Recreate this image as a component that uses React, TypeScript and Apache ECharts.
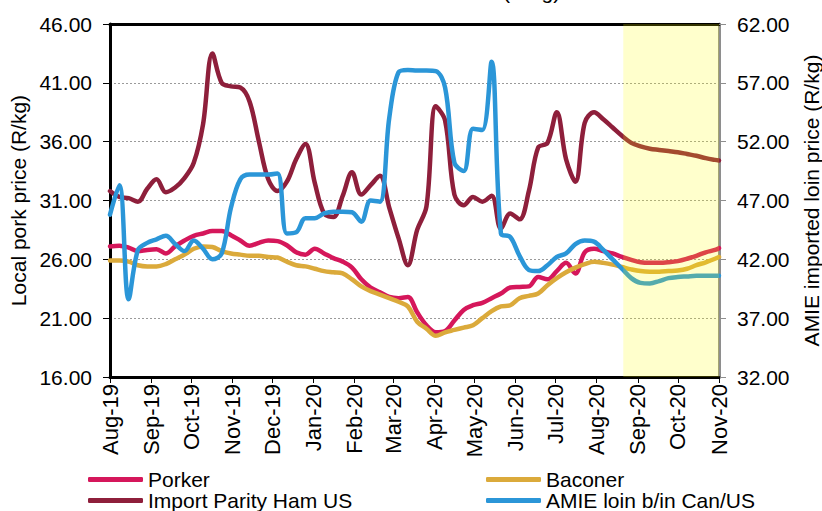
import React, { useEffect, useRef } from "react";
import * as echarts from "echarts";

const FONT = "'Liberation Sans', Arial, sans-serif";
const DAY = 86400000;
const START = Date.UTC(2019, 7, 1);
const END = Date.UTC(2020, 10, 1);
const fmt = (t: number) => new Date(t).toISOString().slice(0, 10);

// daily category axis (Aug-19 .. Nov-20)
const dayCategories: string[] = [];
for (let t = START; t <= END; t += DAY) dayCategories.push(fmt(t));

// weekly observation dates
const weekDates: string[] = [];
for (let k = 0; k <= 65; k++) weekDates.push(fmt(START + k * 7 * DAY));
weekDates.push("2020-11-01");

const MONTHS = ["Jan", "Feb", "Mar", "Apr", "May", "Jun", "Jul", "Aug", "Sep", "Oct", "Nov", "Dec"];

const porker = [
  27.1, 27.15, 27.0, 26.7, 26.8, 26.85, 26.5, 27.1, 27.6, 28.0,
  28.2, 28.4, 28.4, 28.05, 27.6, 27.15, 27.4, 27.6, 27.55, 27.2,
  26.6, 26.4, 26.9, 26.5, 26.1, 25.8, 25.3, 24.3, 23.6, 23.2,
  22.8, 22.7, 22.8, 21.5, 20.4, 19.8, 19.9, 20.8, 21.7, 22.1,
  22.3, 22.7, 23.1, 23.6, 23.65, 23.7, 24.5, 24.3, 25.0, 25.7,
  24.8, 26.6, 26.9, 26.7, 26.5, 26.2, 25.95, 25.75, 25.7, 25.7,
  25.75, 25.85, 26.05, 26.3, 26.6, 26.8, 26.95,
];

const baconer = [
  25.9, 25.9, 25.8, 25.5, 25.4, 25.4, 25.6, 26.0, 26.4, 26.9,
  27.1, 27.05, 26.7, 26.5, 26.4, 26.3, 26.3, 26.2, 26.15, 25.8,
  25.5, 25.4, 25.2, 25.0, 24.9, 24.8, 24.3, 23.7, 23.3, 23.0,
  22.7, 22.4, 22.0, 20.7, 20.1, 19.5, 19.8, 20.0, 20.2, 20.4,
  21.0, 21.6, 22.0, 22.1, 22.7, 22.9, 23.1, 23.8, 24.4, 24.9,
  25.3, 25.6, 25.8, 25.7, 25.55, 25.35, 25.15, 25.0, 24.95, 24.95,
  25.0, 25.05, 25.2, 25.5, 25.75, 26.05, 26.2,
];

const hamUS = [
  31.8, 31.3, 31.2, 30.9, 32.0, 32.8, 31.7, 32.1, 32.9, 34.2,
  37.5, 43.5, 41.0, 40.7, 40.6, 39.4, 36.0, 32.8, 31.8, 32.6,
  34.5, 35.8, 32.5, 29.9, 29.6, 31.4, 33.4, 31.5, 32.3, 33.1,
  30.4, 27.8, 25.5, 28.5, 30.5, 39.0, 37.8, 31.5, 30.6, 31.3,
  30.9, 31.4, 28.6, 29.9, 29.4, 31.8, 35.5, 35.9, 38.5, 34.5,
  32.6, 37.6, 38.5, 37.9, 37.2, 36.5, 35.9, 35.6, 35.4, 35.3,
  35.2, 35.1, 34.95, 34.8, 34.6, 34.45, 34.4,
];

const amieLoin = [
  45.8, 48.3, 38.6, 42.8, 43.4, 43.7, 44.0, 43.3, 42.7, 43.6,
  42.9, 42.0, 42.5, 46.4, 48.8, 49.2, 49.2, 49.2, 49.3, 44.2,
  44.3, 45.5, 45.5, 45.9, 46.05, 46.05, 46.0, 45.2, 47.0, 46.9,
  54.0, 57.9, 58.1, 58.05, 58.05, 58.0, 56.6, 50.2, 49.5, 53.1,
  53.0, 58.8, 44.2, 43.9, 42.3, 41.1, 41.0, 41.5, 42.2, 42.5,
  43.3, 43.6, 43.5, 42.8, 42.0, 41.2, 40.4, 40.0, 39.95, 40.15,
  40.4, 40.5, 40.55, 40.6, 40.6, 40.6, 40.6,
];

const forecastStart = "2020-08-21";
const forecastEnd = "2020-11-01";

const COLORS = {
  porker: "#D5175B",
  baconer: "#DBAA3B",
  ham: "#8E1F3B",
  amie: "#2B96D8",
};

const isMonthStart = (_i: number, v: string) => v.slice(8) === "01";
const monthLabel = (v: string) => MONTHS[parseInt(v.slice(5, 7), 10) - 1] + "-" + v.slice(2, 4);

const pair = (vals: number[]) => vals.map((v, i) => [weekDates[i], v]);

const lineSeries = (name: string, vals: number[], color: string, yAxisIndex: number) => ({
  name,
  type: "line",
  yAxisIndex,
  data: pair(vals),
  smooth: 0.35,
  showSymbol: false,
  symbol: "none",
  lineStyle: { color, width: 4.5, cap: "round", join: "round" },
  itemStyle: { color },
});

export default function App() {
  const ref = useRef<HTMLDivElement>(null);
  useEffect(() => {
    if (!ref.current) return;
    const chart = echarts.init(ref.current, undefined, { renderer: "svg" });
    const axisText = { fontSize: 21, color: "#000", fontFamily: FONT };
    const legendBase = {
      top: 469,
      height: 80,
      padding: 0,
      orient: "vertical",
      itemGap: 0,
      itemWidth: 55,
      itemHeight: 5,
      icon: "roundRect",
      textStyle: { fontSize: 21, color: "#000", fontFamily: FONT, lineHeight: 19 },
    };
    chart.setOption({
      animation: false,
      textStyle: { fontFamily: FONT },
      grid: { left: 110, right: 103, top: 24, bottom: 134, outerBoundsMode: "none", containLabel: false },
      graphic: [
        {
          type: "text",
          left: 503,
          top: -19,
          style: { text: "(R/kg)", fontSize: 21, fill: "#000", fontFamily: FONT },
        },
      ],
      xAxis: [
        {
          type: "category",
          data: dayCategories,
          boundaryGap: false,
          axisLine: { lineStyle: { color: "#000", width: 3 } },
          axisTick: { interval: isMonthStart, length: 6, lineStyle: { color: "#000", width: 1 } },
          axisLabel: {
            interval: isMonthStart,
            rotate: 90,
            formatter: monthLabel,
            margin: 7,
            ...axisText,
            fontSize: 22,
          },
          splitLine: { show: false },
        },
        {
          type: "category",
          data: dayCategories,
          boundaryGap: false,
          position: "top",
          axisLine: { lineStyle: { color: "#000", width: 3 } },
          axisTick: { show: false },
          axisLabel: { show: false },
          splitLine: { show: false },
        },
      ],
      yAxis: [
        {
          type: "value",
          min: 16,
          max: 46,
          interval: 5,
          position: "left",
          name: "Local pork price (R/kg)",
          nameLocation: "middle",
          nameRotate: 90,
          nameGap: 78,
          nameTextStyle: { ...axisText },
          axisLine: { show: true, lineStyle: { color: "#000", width: 3 } },
          axisTick: { show: true, length: 7, lineStyle: { color: "#000", width: 1 } },
          axisLabel: { formatter: (v: number) => v.toFixed(2), margin: 18, ...axisText },
          splitLine: { show: true, lineStyle: { color: "#9a9a9a", width: 1, type: [2, 2] } },
        },
        {
          type: "value",
          min: 32,
          max: 62,
          interval: 5,
          position: "right",
          name: "AMIE imported loin price (R/kg)",
          nameLocation: "middle",
          nameRotate: 90,
          nameGap: 82,
          nameTextStyle: { ...axisText },
          axisLine: { show: true, lineStyle: { color: "#8e8e8e", width: 3 } },
          axisTick: { show: true, length: 7, lineStyle: { color: "#8e8e8e", width: 1 } },
          axisLabel: { formatter: (v: number) => v.toFixed(2), margin: 18, ...axisText },
          splitLine: { show: false },
        },
      ],
      legend: [
        { ...legendBase, left: 88, data: ["Porker", "Import Parity Ham US"] },
        { ...legendBase, left: 486, data: ["Baconer", "AMIE loin b/in Can/US"] },
      ],
      series: [
        lineSeries("Porker", porker, COLORS.porker, 0),
        lineSeries("Baconer", baconer, COLORS.baconer, 0),
        lineSeries("Import Parity Ham US", hamUS, COLORS.ham, 0),
        lineSeries("AMIE loin b/in Can/US", amieLoin, COLORS.amie, 1),
        {
          name: "forecast",
          type: "line",
          data: [],
          silent: true,
          markArea: {
            silent: true,
            z: 10,
            itemStyle: { color: "rgba(255,255,0,0.2)" },
            data: [[{ xAxis: forecastStart }, { xAxis: forecastEnd }]],
          },
        },
      ],
    });
    return () => chart.dispose();
  }, []);
  return (
    <div
      ref={ref}
      style={{ position: "absolute", left: 0, top: 0, width: 822, height: 511, background: "#fff" }}
    />
  );
}
